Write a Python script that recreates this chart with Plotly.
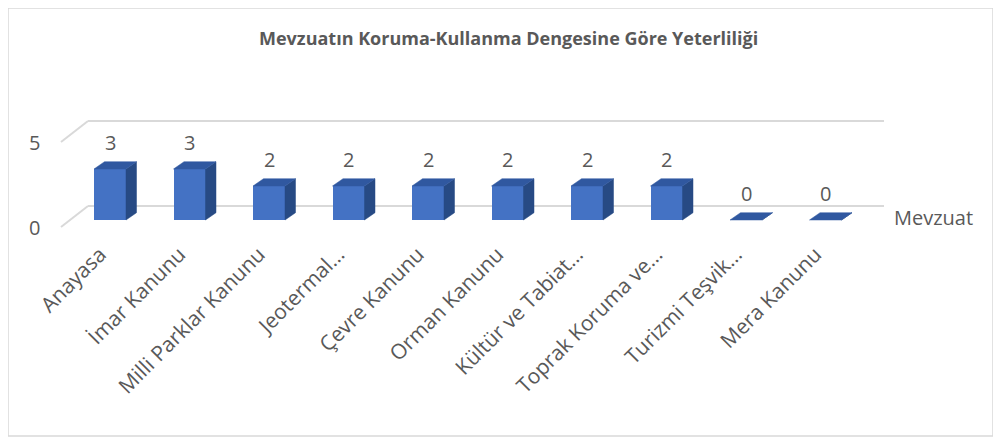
import plotly.graph_objects as go

# ---------------- data ----------------
categories = ["Anayasa", "İmar Kanunu", "Milli Parklar Kanunu", "Jeotermal…",
              "Çevre Kanunu", "Orman Kanunu", "Kültür ve Tabiat…",
              "Toprak Koruma ve…", "Turizmi Teşvik…", "Mera Kanunu"]
values = [3, 3, 2, 2, 2, 2, 2, 2, 0, 0]
y_ticks = [0, 5]
chart_title = "Mevzuatın Koruma-Kullanma Dengesine Göre Yeterliliği"
axis_title = "Mevzuat"

# ---------------- geometry ----------------
OFF = 8                                 # page body margin
W, H = 1001 - OFF, 442 - OFF            # figure size
# plot area in page pixels
PL, PR, PT, PB = 40, 900, 60, 232
L, R, T, B = PL - OFF, PR - OFF, PT - OFF, PB - OFF
PX_CAT, X0_PX = 79.5, 110               # page px per category, centre of first bar
PX_VAL, Y0_PX = 17.0, 220               # page px per unit, front baseline
xr = [(PL - X0_PX) / PX_CAT, (PR - X0_PX) / PX_CAT]
yr = [(Y0_PX - PB) / PX_VAL, (Y0_PX - PT) / PX_VAL]

def px_paper_x(px):          # page px -> paper
    return (px - PL) / (PR - PL)

def px_paper_y(py):
    return (PB - py) / (PB - PT)

bar_w = 32 / PX_CAT
dep_x, dep_y = 10.5 / PX_CAT, 7.3 / PX_VAL
full_dx, full_dy = 27 / PX_CAT, 21 / PX_VAL
back_dy = full_dy * 2 / 3
grid_left = (88 - X0_PX) / PX_CAT
grid_right = (884 - X0_PX) / PX_CAT

FRONT = "#4472C4"
SIDE = "#274A84"
TOP = "#3058A0"
TXT = "#595959"
GRID = "#D9D9D9"
FONT = "Open Sans"

xs = list(range(len(categories)))

fig = go.Figure()

fig.add_trace(go.Bar(x=xs, y=values, width=bar_w, marker=dict(color=FRONT, line=dict(width=0)),
                     hoverinfo="skip", showlegend=False))

sx, sy, tx, ty = [], [], [], []
for i, v in zip(xs, values):
    xl, xrr = i - bar_w / 2, i + bar_w / 2
    sx += [xrr, xrr + dep_x, xrr + dep_x, xrr, xrr, None]
    sy += [0, dep_y, v + dep_y, v, 0, None]
    tx += [xl, xrr, xrr + dep_x, xl + dep_x, xl, None]
    ty += [v, v, v + dep_y, v + dep_y, v, None]
fig.add_trace(go.Scatter(x=sx, y=sy, mode="lines", fill="toself", fillcolor=SIDE,
                         line=dict(color=SIDE, width=0.5), hoverinfo="skip", showlegend=False))
fig.add_trace(go.Scatter(x=tx, y=ty, mode="lines", fill="toself", fillcolor=TOP,
                         line=dict(color=TOP, width=0.5), hoverinfo="skip", showlegend=False))

shapes = []
annotations = []
for v in y_ticks:
    shapes.append(dict(type="line", xref="x", yref="y", layer="below",
                       x0=grid_left, x1=grid_right, y0=v + back_dy, y1=v + back_dy,
                       line=dict(color=GRID, width=2)))
    shapes.append(dict(type="line", xref="x", yref="y", layer="below",
                       x0=grid_left - full_dx, y0=v + back_dy - full_dy,
                       x1=grid_left, y1=v + back_dy,
                       line=dict(color=GRID, width=2)))
    annotations.append(dict(x=grid_left - full_dx, y=v + back_dy - full_dy, xref="x", yref="y",
                            text=str(v), showarrow=False, xanchor="right", yanchor="middle",
                            xshift=-19, font=dict(family=FONT, size=20, color=TXT)))

for i, v in zip(xs, values):
    annotations.append(dict(x=i, y=v, xref="x", yref="y", text=str(v), showarrow=False,
                            xanchor="center", yanchor="middle", yshift=27,
                            font=dict(family=FONT, size=20, color=TXT)))

annotations.append(dict(x=(892 - X0_PX) / PX_CAT, y=(Y0_PX - 217) / PX_VAL, xref="x", yref="y",
                        text=axis_title, showarrow=False, xanchor="left", yanchor="middle",
                        font=dict(family=FONT, size=20, color=TXT)))

annotations.append(dict(x=px_paper_x(508), y=px_paper_y(38), xref="paper", yref="paper",
                        text="<b>" + chart_title + "</b>", showarrow=False,
                        xanchor="center", yanchor="middle",
                        font=dict(family=FONT, size=18, color=TXT)))

shapes.append(dict(type="rect", xref="paper", yref="paper",
                   x0=px_paper_x(8), x1=px_paper_x(993), y0=px_paper_y(436), y1=px_paper_y(8),
                   line=dict(color="#D9D9D9", width=1.5), fillcolor="rgba(0,0,0,0)", layer="below"))

fig.update_layout(
    width=W, height=H,
    margin=dict(l=L, r=W - R, t=T, b=H - B, autoexpand=False),
    paper_bgcolor="white", plot_bgcolor="rgba(0,0,0,0)",
    showlegend=False, bargap=0,
    xaxis=dict(range=xr, tickmode="array", tickvals=xs, ticktext=categories, tickangle=-45,
               showgrid=False, zeroline=False, showline=False, ticks="",
               ticklabelstandoff=5, ticklabelshift=-10,
               tickfont=dict(family=FONT, size=21, color=TXT), fixedrange=True, automargin=False),
    yaxis=dict(range=yr, showgrid=False, zeroline=False, showline=False, showticklabels=False,
               fixedrange=True, automargin=False),
    shapes=shapes, annotations=annotations,
)

fig.write_html("out.html")
